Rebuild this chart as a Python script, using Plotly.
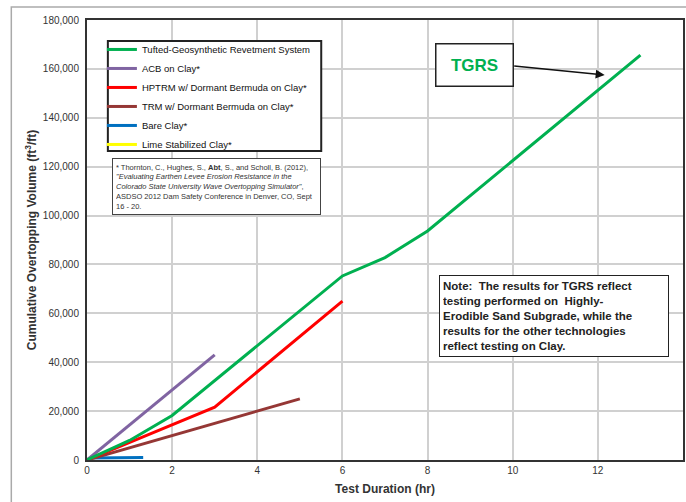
import plotly.graph_objects as go

# Data
tgrs_x = [0, 1, 2, 6, 7, 8, 13]
tgrs_y = [0, 8000, 18200, 75300, 82800, 93700, 165600]

acb_x = [0, 3]
acb_y = [0, 43000]

hptrm_x = [0, 3, 6]
hptrm_y = [0, 21600, 65000]

trm_x = [0, 5]
trm_y = [0, 25000]

bare_x = [0, 0.1, 1.32]
bare_y = [0, 800, 1000]

lime_x = [0, 0.25]
lime_y = [0, 2700]

series_names = ["Tufted-Geosynthetic Revetment System", "ACB on Clay*",
                "HPTRM w/ Dormant Bermuda on Clay*", "TRM w/ Dormant Bermuda on Clay*",
                "Bare Clay*", "Lime Stabilized Clay*"]
series_x = [tgrs_x, acb_x, hptrm_x, trm_x, bare_x, lime_x]
series_y = [tgrs_y, acb_y, hptrm_y, trm_y, bare_y, lime_y]
series_colors = ["#00b050", "#8064a2", "#ff0000", "#953735", "#0070c0", "#ffff00"]

x_ticks = [0, 2, 4, 6, 8, 10, 12, 14]
y_ticks = list(range(0, 180001, 20000))

fig = go.Figure()
# draw in reverse so TGRS sits on top
for name, xs, ys, col in reversed(list(zip(series_names, series_x, series_y, series_colors))):
    fig.add_trace(go.Scatter(x=xs, y=ys, mode="lines", name=name,
                             line=dict(color=col, width=3)))

fig.update_layout(
    width=686, height=502,
    margin=dict(l=87, r=1, t=20, b=42),
    paper_bgcolor="white", plot_bgcolor="white",
    font=dict(family="Arial, Liberation Sans, sans-serif", color="#222", size=10),
    showlegend=True,
    legend=dict(x=0.025, y=0.966, xanchor="left", yanchor="top",
                borderwidth=0, bgcolor="rgba(0,0,0,0)",
                font=dict(size=9.5, color="#111"), traceorder="reversed",
                itemwidth=30, tracegroupgap=0),
    xaxis=dict(range=[0, 14], tickvals=x_ticks, showgrid=True,
               gridcolor="#d0d0d0", gridwidth=2, showline=True, linecolor="#333",
               linewidth=2, mirror=True, zeroline=False, ticks="",
               tickfont=dict(size=10, color="#333"),
               title=dict(text="<b>Test Duration (hr)</b>", font=dict(size=12, color="#333"),
                          standoff=10)),
    yaxis=dict(range=[0, 180000], tickvals=y_ticks, tickformat=",", showgrid=True,
               gridcolor="#d0d0d0", gridwidth=2, showline=True, linecolor="#333",
               linewidth=2, mirror=True, zeroline=False, ticks="",
               tickfont=dict(size=10, color="#333"), ticklabelstandoff=4,
               title=dict(text="<b>Cumulative Overtopping Volume (ft<sup>3</sup>/ft)</b>",
                          font=dict(size=12, color="#333"), standoff=4)),
)

# outer light frame
fig.add_shape(type="rect", xref="paper", yref="paper", x0=-0.127, x1=1.02, y0=-0.2, y1=1.0295,
              line=dict(color="#aaaaaa", width=1.5), layer="below")

# legend box
fig.add_shape(type="rect", xref="paper", yref="paper", x0=0.035, x1=0.393, y0=0.702, y1=0.952,
              line=dict(color="#222", width=2), fillcolor="white", layer="above")

# citation box
fig.add_annotation(
    xref="paper", yref="paper", x=0.042, y=0.686, xanchor="left", yanchor="top",
    text=("* Thornton, C., Hughes, S., <b>Abt</b>, S., and Scholl, B. (2012),<br>"
          "<i>\"Evaluating Earthen Levee Erosion Resistance in the<br>"
          "Colorado State University Wave Overtopping Simulator\"</i>,<br>"
          "ASDSO 2012 Dam Safety Conference in Denver, CO, Sept<br>16 - 20."),
    align="left", valign="middle", showarrow=False, font=dict(size=7.5, color="#333"),
    width=201, height=49,
    bordercolor="#444", borderwidth=1, borderpad=3, bgcolor="white")

# note box
fig.add_annotation(
    xref="paper", yref="paper", x=0.590, y=0.4205, xanchor="left", yanchor="top",
    text=("<b>Note:  The results for TGRS reflect<br>testing performed on  Highly-<br>"
          "Erodible Sand Subgrade, while the<br>results for the other technologies<br>"
          "reflect testing on Clay.</b>"),
    align="left", valign="middle", showarrow=False, font=dict(size=11.5, color="#222"),
    width=222, height=74,
    bordercolor="#222", borderwidth=1, borderpad=3, bgcolor="white")

# TGRS label with arrow
fig.add_annotation(
    x=12.16, y=157500, ax=10.0, ay=161200, axref="x", ayref="y",
    xref="x", yref="y", text="", showarrow=True, arrowhead=2, arrowsize=1.2,
    arrowwidth=1.5, arrowcolor="#111", standoff=0)
fig.add_annotation(
    xref="x", yref="y", x=9.10, y=161400, xanchor="center", yanchor="middle",
    text="<b>TGRS</b>", showarrow=False, font=dict(size=17, color="#00b050"),
    width=70, height=35,
    bordercolor="#222", borderwidth=1.5, borderpad=3, bgcolor="white")

fig.write_html("out.html", config={"displayModeBar": False},
               post_script="document.body.style.margin='0px';")
